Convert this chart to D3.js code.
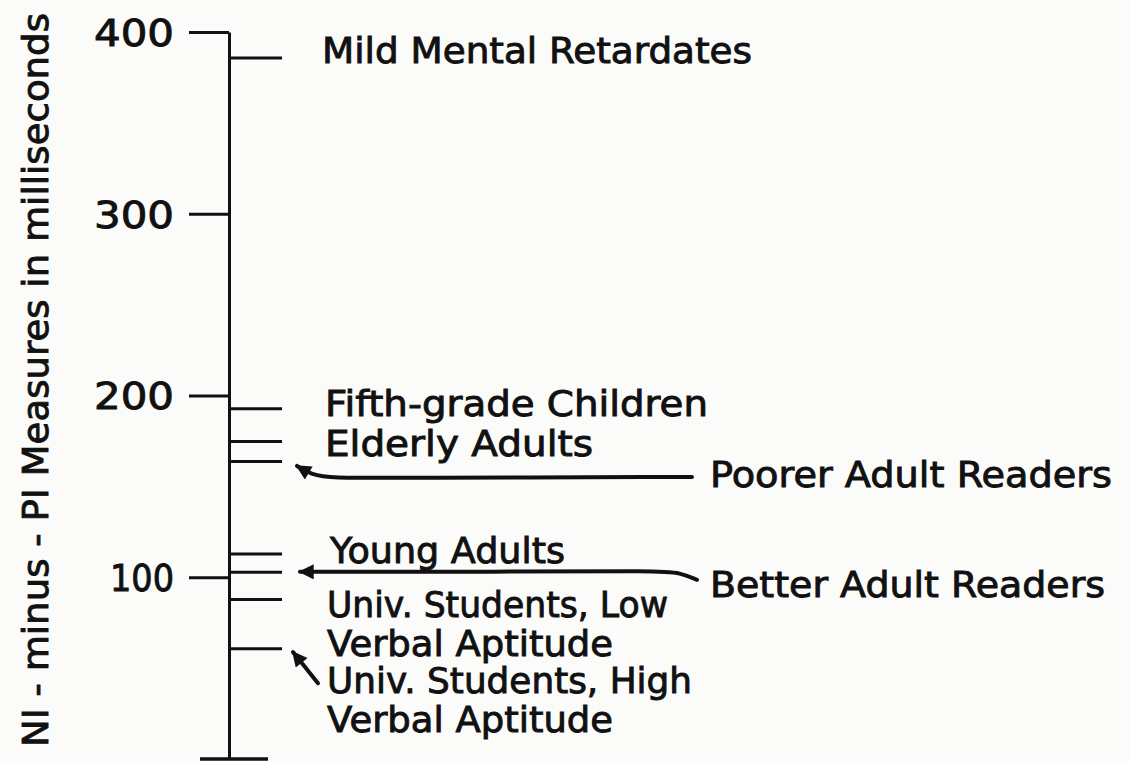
<!DOCTYPE html>
<html>
<head>
<meta charset="utf-8">
<script src="https://cdn.jsdelivr.net/npm/d3@7"></script>
<style>
  body { margin: 0; background: #fbfbfa; }
  svg { display: block; }
  text { font-family: "DejaVu Sans", sans-serif; fill: #111; stroke: #111; stroke-width: 0.9px; }
</style>
</head>
<body>
<div id="chart"></div>
<script>
// data
var tickValues = [100, 200, 300, 400];
var groups = ["Mild Mental Retardates", "Fifth-grade Children", "Elderly Adults",
    "Poorer Adult Readers", "Young Adults", "Better Adult Readers",
    "Univ. Students, Low Verbal Aptitude", "Univ. Students, High Verbal Aptitude"];
var values = [386, 193, 175, 164, 113, 103, 88, 61];
var yTitle = "NI - minus - PI Measures in milliseconds";

// label layout: lines, x, baseline offset from the marker, target width
var labelLayout = [
    { lines: ["Mild Mental Retardates"], x: 322, dy: 6, w: [430] },
    { lines: ["Fifth-grade Children"], x: 325, dy: 8, w: [383] },
    { lines: ["Elderly Adults"], x: 325, dy: 15, w: [268] },
    { lines: ["Poorer Adult Readers"], x: 710, dy: 26, w: [402] },
    { lines: ["Young Adults"], x: 330, dy: 9, w: [235] },
    { lines: ["Better Adult Readers"], x: 710, dy: 25, w: [395] },
    { lines: ["Univ. Students, Low", "Verbal Aptitude"], x: 327, dy: 18, w: [341, 286] },
    { lines: ["Univ. Students, High", "Verbal Aptitude"], x: 327, dy: 45, w: [365, 286] }
];

var width = 1129, height = 761;
var axisX = 229;

var svg = d3.select("#chart")
    .append("svg")
    .attr("width", width)
    .attr("height", height);

svg.append("defs").append("marker")
    .attr("id", "head")
    .attr("viewBox", "0 0 10 10")
    .attr("refX", 9).attr("refY", 5)
    .attr("markerWidth", 4.5).attr("markerHeight", 3.8)
    .attr("markerUnits", "strokeWidth")
    .attr("orient", "auto")
    .append("path")
    .attr("d", "M0,0 L10,5 L0,10 Z")
    .attr("fill", "#111");

var y = d3.scaleLinear()
    .domain([0, 400])
    .range([759, 32]);

// left axis with the scale ticks
var left = svg.append("g")
    .attr("transform", "translate(" + axisX + ",0)")
    .call(d3.axisLeft(y).tickValues(tickValues).tickSize(40).tickSizeOuter(0).tickPadding(15));

left.select(".domain").attr("stroke", "#111").attr("stroke-width", 3);
left.selectAll(".tick line").attr("stroke", "#111").attr("stroke-width", 3);
left.selectAll(".tick text")
    .attr("font-size", 37)
    .attr("fill", "#111")
    .attr("dy", "0.36em")
    .attr("textLength", function (d) { return d == 100 ? 64 : 80; })
    .attr("lengthAdjust", "spacingAndGlyphs");

// base of the scale
svg.append("line")
    .attr("x1", axisX - 29).attr("x2", axisX + 39)
    .attr("y1", y(0)).attr("y2", y(0))
    .attr("stroke", "#111").attr("stroke-width", 3.5);

// group markers on the right side
var right = svg.append("g")
    .attr("transform", "translate(" + axisX + ",0)")
    .call(d3.axisRight(y).tickValues(values).tickSize(53).tickSizeOuter(0).tickFormat(""));
right.select(".domain").remove();
right.selectAll(".tick line").attr("stroke", "#111").attr("stroke-width", 3);

// labels
groups.forEach(function (g, i) {
    var L = labelLayout[i];
    L.lines.forEach(function (line, j) {
        svg.append("text")
            .attr("x", L.x)
            .attr("y", y(values[i]) + L.dy + j * 39)
            .attr("font-size", 35)
            .attr("textLength", L.w[j])
            .attr("lengthAdjust", "spacingAndGlyphs")
            .text(line);
    });
});

// arrows from the reader labels and the high-aptitude label
var line = d3.line().curve(d3.curveBasis);
var yp = y(values[3]), yb = y(values[5]), yh = y(values[7]);
var arrows = [
    [[692, yp + 16], [400, yp + 17], [330, yp + 17], [312, yp + 14], [297, yp + 5]],
    [[697, yb + 8], [680, yb + 1], [660, yb - 1], [500, yb], [300, yb]],
    [[318, yh + 35], [306, yh + 20], [293, yh + 4]]
];
svg.selectAll(".arrow")
    .data(arrows)
    .enter()
    .append("path")
    .attr("class", "arrow")
    .attr("d", line)
    .attr("fill", "none")
    .attr("stroke", "#111")
    .attr("stroke-width", 4)
    .attr("stroke-linecap", "round")
    .attr("marker-end", "url(#head)");

// y title
svg.append("text")
    .attr("transform", "translate(48," + 380 + ") rotate(-90)")
    .attr("text-anchor", "middle")
    .attr("font-size", 35)
    .attr("textLength", 734)
    .attr("lengthAdjust", "spacingAndGlyphs")
    .text(yTitle);
</script>
</body>
</html>
